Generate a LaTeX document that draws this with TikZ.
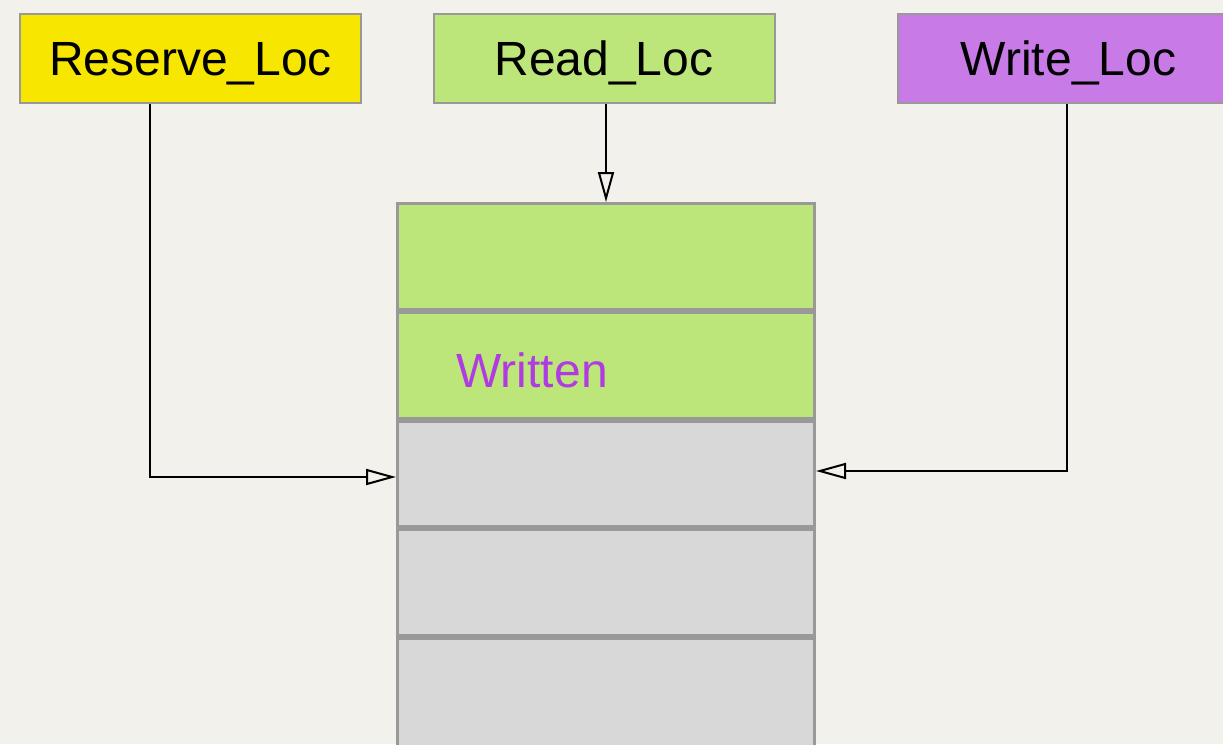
\documentclass[tikz,border=0pt]{standalone}
\usepackage{fontspec}
\setmainfont{Liberation Sans}
\usetikzlibrary{arrows.meta,positioning}

\definecolor{paper}{HTML}{F3F1EC}
\definecolor{reserveyellow}{HTML}{F7E600}
\definecolor{readgreen}{HTML}{BDE67A}
\definecolor{writepurple}{HTML}{C87AE6}
\definecolor{slotgrey}{HTML}{D8D8D8}
\definecolor{edgegrey}{HTML}{999999}
\definecolor{writtentext}{HTML}{B13BE3}

\tikzset{
  locbox/.style={draw=edgegrey, line width=2pt, minimum width=341pt, minimum height=89pt,
    inner sep=0pt, text depth=0pt, font=\fontsize{48}{52}\selectfont},
  slot/.style={draw=edgegrey, line width=3pt, minimum width=417pt, minimum height=105.75pt,
    inner sep=0pt},
  ptr/.style={line width=2pt, -{Triangle[open, length=30pt, width=16pt, line width=2pt]}},
}

\begin{document}
\begin{tikzpicture}[x=1pt,y=-1pt]
		%%%%% BACKGROUND %%%%%
		\fill[paper] (0,0) rectangle (1223,744);
		\clip (0,0) rectangle (1223,744);
		
		%%%%% LOCATION POINTERS %%%%%
		\node[locbox, fill=reserveyellow] (reserve) at (190.5,58.5) {Reserve\_Loc};
		\node[locbox, fill=readgreen] (read) at (604,58.5) {Read\_Loc};
		\node[locbox, fill=writepurple] (write) at (1068.5,58.5) {Write\_Loc};
		
		%%%%% BUFFER SLOTS %%%%%
		\node[slot, fill=readgreen] (slot1) at (606,256.4) {};
		\node[slot, fill=readgreen, below=0pt of slot1] (slot2) {};
		\node[slot, fill=slotgrey, below=0pt of slot2] (slot3) {};
		\node[slot, fill=slotgrey, below=0pt of slot3] (slot4) {};
		\node[slot, fill=slotgrey, minimum height=140pt, below=0pt of slot4] (slot5) {};
		
		\node[anchor=base west, text=writtentext, font=\fontsize{48}{52}\selectfont] (written) at (453,387) {Written};
		
		%%%%% ARROWS %%%%%
		\coordinate (reservebend) at (150,477);
		\coordinate (writebend) at (1067,471);
		
		\draw[ptr] (reserve.south -| reservebend) -- (reservebend) -- (reservebend -| slot3.west);
		\draw[ptr] (read.south -| slot1.north) -- (slot1.north);
		\draw[ptr] (write.south -| writebend) -- (writebend) -- (writebend -| slot3.east);
		
		%%%%% END %%%%%
\end{tikzpicture}
\end{document}
